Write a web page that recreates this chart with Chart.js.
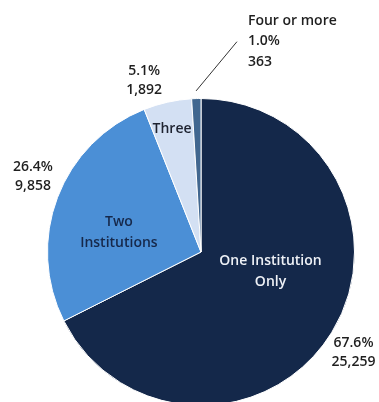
<!DOCTYPE html>
<html>
<head>
<meta charset="utf-8">
<script src="https://cdn.jsdelivr.net/npm/chart.js@4.4.1/dist/chart.umd.min.js"></script>
<style>
  html, body { margin: 0; padding: 0; background: #fff; overflow: hidden; }
  #wrap { width: 379px; height: 402px; overflow: hidden; }
</style>
</head>
<body>
<div id="wrap"><canvas id="myChart" width="379" height="406"></canvas></div>
<script>
const categories = ['One Institution Only', 'Two Institutions', 'Three', 'Four or more'];
const students = [25259, 9858, 1892, 363];
const shares = ['67.6%', '26.4%', '5.1%', '1.0%'];

const sliceColors = ['#14284a', '#4b8fd6', '#d3e0f3', '#41678f'];

// inner label text per slice (line by line) and its colour
const innerLines = [['One Institution', 'Only'], ['Two', 'Institutions'], ['Three'], []];
const innerColors = ['#eef1f6', '#16284a', '#1e2330', null];

// polar spots (degrees clockwise from 3 o'clock, fraction of radius)
const innerSpot = [[15.5, 0.47], [193.5, 0.55], [256.7, 0.82], null];
const outerSpot = [[33.4, 1.19], [204.2, 1.2], [251.7, 1.18], null];

const FONT = '600 14px "Open Sans", sans-serif';

const pieLabels = {
    id: 'pieLabels',
    afterDatasetsDraw(chart) {
        const c = chart.ctx;
        const arcs = chart.getDatasetMeta(0).data;
        c.save();
        c.font = FONT;
        c.textBaseline = 'middle';
        c.textAlign = 'center';

        const at = (arc, spot) => {
            const a = spot[0] * Math.PI / 180;
            return { x: arc.x + Math.cos(a) * arc.outerRadius * spot[1], y: arc.y + Math.sin(a) * arc.outerRadius * spot[1] };
        };

        arcs.forEach((arc, i) => {
            if (innerSpot[i]) {
                const p = at(arc, innerSpot[i]);
                const lines = innerLines[i];
                c.fillStyle = innerColors[i];
                lines.forEach((t, k) => c.fillText(t, p.x, p.y + (k - (lines.length - 1) / 2) * 21));
            }
            if (outerSpot[i]) {
                const p = at(arc, outerSpot[i]);
                c.fillStyle = '#1f1f1f';
                c.fillText(shares[i], p.x, p.y - 9.5);
                c.fillText(students[i].toLocaleString('en-US'), p.x, p.y + 9.5);
            }
        });

        // small slice: callout with a leader line
        const last = arcs.length - 1;
        const a4 = arcs[last];
        const mid = (a4.startAngle + a4.endAngle) / 2;
        const from = { x: a4.x + Math.cos(mid) * a4.outerRadius * 1.05, y: a4.y + Math.sin(mid) * a4.outerRadius * 1.05 };
        const endA = -80.3 * Math.PI / 180;
        const to = { x: a4.x + Math.cos(endA) * a4.outerRadius * 1.39, y: a4.y + Math.sin(endA) * a4.outerRadius * 1.39 };
        c.strokeStyle = '#333';
        c.lineWidth = 1;
        c.beginPath();
        c.moveTo(from.x, from.y);
        c.lineTo(to.x, to.y);
        c.stroke();
        c.textAlign = 'left';
        c.fillStyle = '#1f1f1f';
        c.fillText(categories[last], to.x + 11, to.y - 21);
        c.fillText(shares[last], to.x + 11, to.y - 1);
        c.fillText(students[last].toLocaleString('en-US'), to.x + 11, to.y + 20);
        c.restore();
    }
};

const ctx = document.getElementById('myChart');

const pieChart = new Chart(ctx, {
    type: 'pie',
    data: {
        labels: categories,
        datasets: [{
            data: students,
            backgroundColor: sliceColors,
            borderColor: '#ffffff',
            borderWidth: 1
        }]
    },
    options: {
        responsive: false,
        animation: false,
        layout: { padding: { top: 98, left: 47, right: 24, bottom: 0 } },
        plugins: {
            legend: { display: false },
            tooltip: { enabled: false }
        }
    },
    plugins: [pieLabels]
});
</script>
</body>
</html>
